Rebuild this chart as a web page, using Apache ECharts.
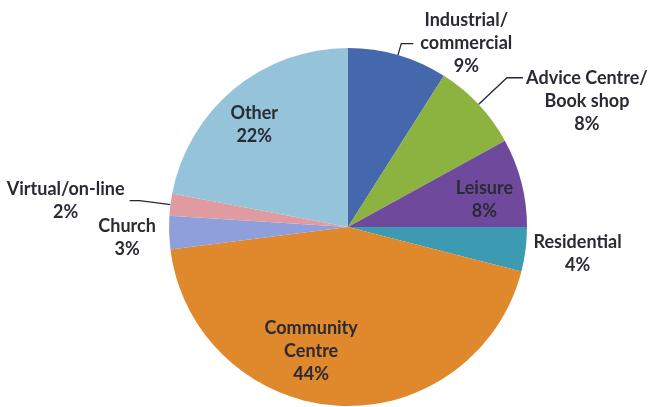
<!DOCTYPE html>
<html>
<head>
<meta charset="utf-8">
<script src="https://cdn.jsdelivr.net/npm/echarts@6/dist/echarts.min.js"></script>
<style>
  html, body { margin: 0; padding: 0; background: #ffffff; }
  #chart { width: 652px; height: 407px; }
</style>
</head>
<body>
<div id="chart"></div>
<script>
// Venue types and their share of the total (%)
const categories = [
  'Industrial/\ncommercial',
  'Advice Centre/\nBook shop',
  'Leisure',
  'Residential',
  'Community\nCentre',
  'Church',
  'Virtual/on-line',
  'Other'
];
const shares = [9, 8, 8, 4, 44, 3, 2, 22];
const sliceColors = ['#4567ab', '#8cb23f', '#6f4a9c', '#3c9bb3', '#df882c', '#8e9fdb', '#e09ba0', '#95c3da'];

// Slices whose label sits on the slice itself
const insideLabels = ['Leisure', 'Community\nCentre', 'Other'];

// Label box styling per slice: box width, leader lengths, leader visibility, padding
const labelLook = {
  'Industrial/\ncommercial':   { w: 100, l1: 12, l2: 12, line: true,  pad: [0, 0, 0, 0] },
  'Advice Centre/\nBook shop': { w: 122, l1: 39, l2: 16, line: true,  pad: [46, 0, 0, 0] },
  'Leisure':                   { w: 70,  pad: [16, 0, 0, 0] },
  'Residential':               { w: 94,  l1: 2,  l2: 0,  line: false, pad: [8, 0, 0, 0] },
  'Community\nCentre':         { w: 104, pad: [0, 56, 32, 0] },
  'Church':                    { w: 64,  l1: 5,  l2: 2,  line: false, pad: [10, 0, 0, 0] },
  'Virtual/on-line':           { w: 122, l1: 31, l2: 10, line: true,  pad: [0, 0, 0, 0] },
  'Other':                     { w: 70,  pad: [12, 8, 0, 0] }
};

const R = 179;
const CENTER = [348, 227];
const FONT = { fontFamily: 'Lato, "Open Sans", sans-serif', fontSize: 18, fontWeight: 'bold', color: '#2a2a34' };

function labelText(p) {
  return (p.name + '\n' + p.value + '%').split('\n').map(s => '{t|' + s + '}').join('\n');
}

function richFor(name) {
  return { t: { width: labelLook[name].w, align: 'center', lineHeight: 23 } };
}

// Main pie: filled slices, outside labels with leader lines
const mainData = categories.map((name, i) => {
  const look = labelLook[name];
  const inside = insideLabels.includes(name);
  return {
    name: name,
    value: shares[i],
    itemStyle: { color: sliceColors[i] },
    label: inside ? { show: false } : {
      show: true,
      padding: look.pad,
      rich: richFor(name)
    },
    labelLine: inside ? { show: false } : {
      show: look.line,
      length: look.l1,
      length2: look.l2
    }
  };
});

// Transparent ring over the pie, carrying the labels drawn on the slices
const ringData = categories.map((name, i) => {
  const look = labelLook[name];
  const inside = insideLabels.includes(name);
  return {
    name: name,
    value: shares[i],
    label: inside ? {
      show: true,
      padding: look.pad,
      rich: richFor(name)
    } : { show: false },
    labelLine: { show: false }
  };
});

const chart = echarts.init(document.getElementById('chart'), null, { renderer: 'canvas' });
chart.setOption({
  animation: false,
  backgroundColor: '#ffffff',
  series: [
    {
      type: 'pie',
      center: CENTER,
      radius: [0, R],
      startAngle: 90,
      clockwise: true,
      avoidLabelOverlap: false,
      silent: true,
      label: Object.assign({ position: 'outside', distanceToLabelLine: 3, overflow: 'none', formatter: labelText }, FONT),
      labelLine: { lineStyle: { color: '#1f2a36', width: 1.3 }, smooth: false },
      labelLayout: { hideOverlap: false },
      itemStyle: { borderWidth: 0 },
      emphasis: { disabled: true },
      data: mainData
    },
    {
      type: 'pie',
      center: CENTER,
      radius: [R * 0.54, R],
      startAngle: 90,
      clockwise: true,
      avoidLabelOverlap: false,
      silent: true,
      label: Object.assign({ position: 'inside', formatter: labelText }, FONT),
      labelLayout: { hideOverlap: false },
      itemStyle: { color: 'rgba(0,0,0,0)', borderWidth: 0 },
      emphasis: { disabled: true },
      data: ringData
    }
  ]
});
</script>
</body>
</html>
